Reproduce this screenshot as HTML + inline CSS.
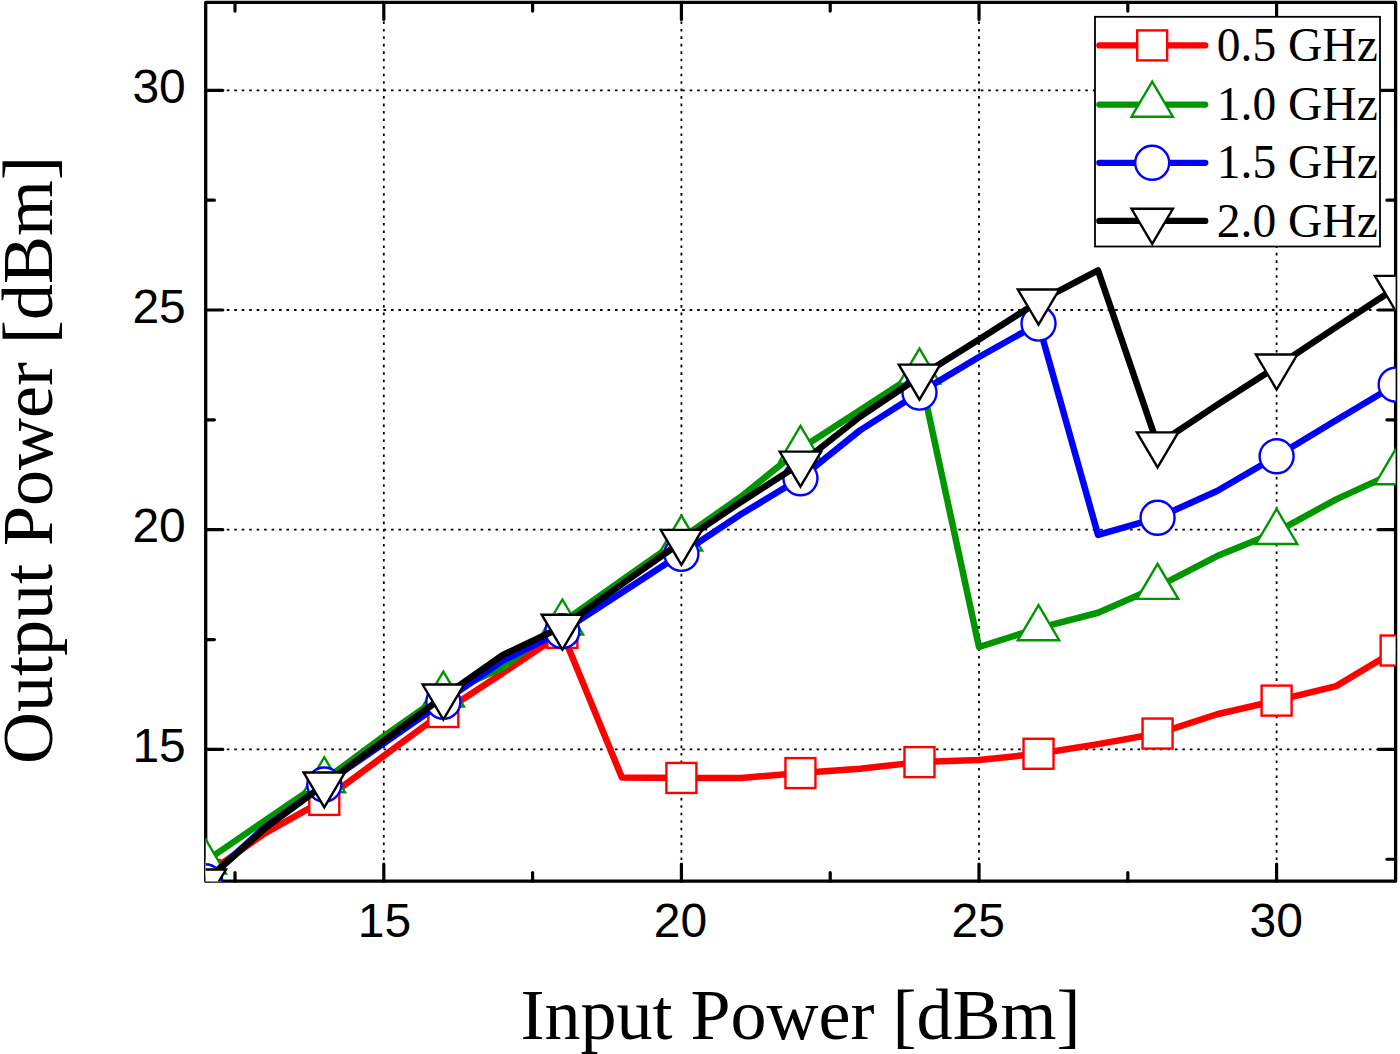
<!DOCTYPE html>
<html><head><meta charset="utf-8"><title>Output Power vs Input Power</title>
<style>html,body{margin:0;padding:0;background:#fff;}svg{display:block;}</style>
</head><body>
<svg width="1400" height="1054" viewBox="0 0 1400 1054"><defs><clipPath id="pc"><rect x="205.7" y="2.4" width="1189.9" height="878.8"/></clipPath></defs><rect width="1400" height="1054" fill="#fff"/><g stroke="#000" stroke-width="1.8" stroke-dasharray="2.6 4.865" stroke-dashoffset="1.3" fill="none"><line x1="383.81" y1="881.2" x2="383.81" y2="2.4"/><line x1="205.7" y1="749.38" x2="1395.6" y2="749.38"/><line x1="681.41" y1="881.2" x2="681.41" y2="2.4"/><line x1="205.7" y1="529.68" x2="1395.6" y2="529.68"/><line x1="979.01" y1="881.2" x2="979.01" y2="2.4"/><line x1="205.7" y1="309.98" x2="1395.6" y2="309.98"/><line x1="1276.61" y1="881.2" x2="1276.61" y2="2.4"/><line x1="205.7" y1="90.28" x2="1395.6" y2="90.28"/></g>
<rect x="205.7" y="2.4" width="1189.9" height="878.8" fill="none" stroke="#000" stroke-width="3.3" stroke-linejoin="round"/><path d="M235.01 881.2V872.5M235.01 2.4V11.1M205.7 859.23H214.4M1395.6 859.23H1386.9M383.81 881.2V864.1M383.81 2.4V19.5M205.7 749.38H222.8M1395.6 749.38H1378.5M532.61 881.2V872.5M532.61 2.4V11.1M205.7 639.53H214.4M1395.6 639.53H1386.9M681.41 881.2V864.1M681.41 2.4V19.5M205.7 529.68H222.8M1395.6 529.68H1378.5M830.21 881.2V872.5M830.21 2.4V11.1M205.7 419.83H214.4M1395.6 419.83H1386.9M979.01 881.2V864.1M979.01 2.4V19.5M205.7 309.98H222.8M1395.6 309.98H1378.5M1127.81 881.2V872.5M1127.81 2.4V11.1M205.7 200.13H214.4M1395.6 200.13H1386.9M1276.61 881.2V864.1M1276.61 2.4V19.5M205.7 90.28H222.8M1395.6 90.28H1378.5" stroke="#000" stroke-width="3.2" stroke-linecap="round" fill="none"/>
<g clip-path="url(#pc)"><polyline points="205.25,875.05 264.77,833.31 324.29,799.91 383.81,755.97 443.33,712.03 502.85,672.92 562.37,632.94 621.89,777.5 681.41,777.94 740.93,777.94 800.45,773.11 859.97,768.71 919.49,762.12 979.01,759.93 1038.53,753.77 1098.05,744.11 1157.57,733.56 1217.09,714.23 1276.61,700.61 1336.13,686.11 1395.65,650.52" fill="none" stroke="#ff0000" stroke-width="6.5" stroke-linejoin="round" stroke-linecap="round"/><rect x="190.25" y="860.05" width="30" height="30" fill="#fff" stroke="#ff0000" stroke-width="2.4"/><rect x="309.29" y="784.91" width="30" height="30" fill="#fff" stroke="#ff0000" stroke-width="2.4"/><rect x="428.33" y="697.03" width="30" height="30" fill="#fff" stroke="#ff0000" stroke-width="2.4"/><rect x="547.37" y="617.94" width="30" height="30" fill="#fff" stroke="#ff0000" stroke-width="2.4"/><rect x="666.41" y="762.94" width="30" height="30" fill="#fff" stroke="#ff0000" stroke-width="2.4"/><rect x="785.45" y="758.11" width="30" height="30" fill="#fff" stroke="#ff0000" stroke-width="2.4"/><rect x="904.49" y="747.12" width="30" height="30" fill="#fff" stroke="#ff0000" stroke-width="2.4"/><rect x="1023.53" y="738.77" width="30" height="30" fill="#fff" stroke="#ff0000" stroke-width="2.4"/><rect x="1142.57" y="718.56" width="30" height="30" fill="#fff" stroke="#ff0000" stroke-width="2.4"/><rect x="1261.61" y="685.61" width="30" height="30" fill="#fff" stroke="#ff0000" stroke-width="2.4"/><rect x="1380.65" y="635.52" width="30" height="30" fill="#fff" stroke="#ff0000" stroke-width="2.4"/><polyline points="205.25,861.43 264.77,820.56 324.29,780.14 383.81,736.2 443.33,694.46 502.85,667.65 562.37,622.39 621.89,580.21 681.41,538.47 740.93,496.73 800.45,448.83 859.97,410.16 919.49,371.5 979.01,647 1038.53,628.11 1098.05,612.73 1157.57,586.8 1217.09,556.04 1276.61,531.88 1336.13,499.36 1395.65,472.12" fill="none" stroke="#009600" stroke-width="6.5" stroke-linejoin="round" stroke-linecap="round"/><polygon points="205.25,838.53 225.95,873.53 184.55,873.53" fill="#fff" stroke="#009600" stroke-width="2.4" stroke-linejoin="miter"/><polygon points="324.29,757.24 344.99,792.24 303.59,792.24" fill="#fff" stroke="#009600" stroke-width="2.4" stroke-linejoin="miter"/><polygon points="443.33,671.56 464.03,706.56 422.63,706.56" fill="#fff" stroke="#009600" stroke-width="2.4" stroke-linejoin="miter"/><polygon points="562.37,599.49 583.07,634.49 541.67,634.49" fill="#fff" stroke="#009600" stroke-width="2.4" stroke-linejoin="miter"/><polygon points="681.41,515.57 702.11,550.57 660.71,550.57" fill="#fff" stroke="#009600" stroke-width="2.4" stroke-linejoin="miter"/><polygon points="800.45,425.93 821.15,460.93 779.75,460.93" fill="#fff" stroke="#009600" stroke-width="2.4" stroke-linejoin="miter"/><polygon points="919.49,348.6 940.19,383.6 898.79,383.6" fill="#fff" stroke="#009600" stroke-width="2.4" stroke-linejoin="miter"/><polygon points="1038.53,605.21 1059.23,640.21 1017.83,640.21" fill="#fff" stroke="#009600" stroke-width="2.4" stroke-linejoin="miter"/><polygon points="1157.57,563.9 1178.27,598.9 1136.87,598.9" fill="#fff" stroke="#009600" stroke-width="2.4" stroke-linejoin="miter"/><polygon points="1276.61,508.98 1297.31,543.98 1255.91,543.98" fill="#fff" stroke="#009600" stroke-width="2.4" stroke-linejoin="miter"/><polygon points="1395.65,449.22 1416.35,484.22 1374.95,484.22" fill="#fff" stroke="#009600" stroke-width="2.4" stroke-linejoin="miter"/><polyline points="205.25,881.2 264.77,827.15 324.29,784.53 383.81,743.23 443.33,701.92 502.85,660.62 562.37,631.18 621.89,592.51 681.41,553.85 740.93,514.3 800.45,478.27 859.97,430.38 919.49,392.59 979.01,357 1038.53,323.6 1098.05,534.95 1157.57,517.82 1217.09,491.01 1276.61,456.3 1336.13,420.27 1395.65,384.68" fill="none" stroke="#0000ff" stroke-width="6.5" stroke-linejoin="round" stroke-linecap="round"/><circle cx="205.25" cy="881.2" r="17" fill="#fff" stroke="#0000ff" stroke-width="2.4"/><circle cx="324.29" cy="784.53" r="17" fill="#fff" stroke="#0000ff" stroke-width="2.4"/><circle cx="443.33" cy="701.92" r="17" fill="#fff" stroke="#0000ff" stroke-width="2.4"/><circle cx="562.37" cy="631.18" r="17" fill="#fff" stroke="#0000ff" stroke-width="2.4"/><circle cx="681.41" cy="553.85" r="17" fill="#fff" stroke="#0000ff" stroke-width="2.4"/><circle cx="800.45" cy="478.27" r="17" fill="#fff" stroke="#0000ff" stroke-width="2.4"/><circle cx="919.49" cy="392.59" r="17" fill="#fff" stroke="#0000ff" stroke-width="2.4"/><circle cx="1038.53" cy="323.6" r="17" fill="#fff" stroke="#0000ff" stroke-width="2.4"/><circle cx="1157.57" cy="517.82" r="17" fill="#fff" stroke="#0000ff" stroke-width="2.4"/><circle cx="1276.61" cy="456.3" r="17" fill="#fff" stroke="#0000ff" stroke-width="2.4"/><circle cx="1395.65" cy="384.68" r="17" fill="#fff" stroke="#0000ff" stroke-width="2.4"/><polyline points="205.25,881.64 264.77,828.47 324.29,784.53 383.81,740.59 443.33,696.65 502.85,654.91 562.37,626.79 621.89,584.17 681.41,541.98 740.93,502 800.45,463.77 859.97,416.75 919.49,376.77 979.01,339.42 1038.53,301.63 1098.05,270.43 1157.57,444.44 1217.09,404.89 1276.61,366.66 1336.13,327.12 1395.65,288.01" fill="none" stroke="#000000" stroke-width="6.5" stroke-linejoin="round" stroke-linecap="round"/><polygon points="205.25,904.54 225.95,869.54 184.55,869.54" fill="#fff" stroke="#000000" stroke-width="2.4" stroke-linejoin="miter"/><polygon points="324.29,807.43 344.99,772.43 303.59,772.43" fill="#fff" stroke="#000000" stroke-width="2.4" stroke-linejoin="miter"/><polygon points="443.33,719.55 464.03,684.55 422.63,684.55" fill="#fff" stroke="#000000" stroke-width="2.4" stroke-linejoin="miter"/><polygon points="562.37,649.69 583.07,614.69 541.67,614.69" fill="#fff" stroke="#000000" stroke-width="2.4" stroke-linejoin="miter"/><polygon points="681.41,564.88 702.11,529.88 660.71,529.88" fill="#fff" stroke="#000000" stroke-width="2.4" stroke-linejoin="miter"/><polygon points="800.45,486.67 821.15,451.67 779.75,451.67" fill="#fff" stroke="#000000" stroke-width="2.4" stroke-linejoin="miter"/><polygon points="919.49,399.67 940.19,364.67 898.79,364.67" fill="#fff" stroke="#000000" stroke-width="2.4" stroke-linejoin="miter"/><polygon points="1038.53,324.53 1059.23,289.53 1017.83,289.53" fill="#fff" stroke="#000000" stroke-width="2.4" stroke-linejoin="miter"/><polygon points="1157.57,467.34 1178.27,432.34 1136.87,432.34" fill="#fff" stroke="#000000" stroke-width="2.4" stroke-linejoin="miter"/><polygon points="1276.61,389.56 1297.31,354.56 1255.91,354.56" fill="#fff" stroke="#000000" stroke-width="2.4" stroke-linejoin="miter"/><polygon points="1395.65,310.91 1416.35,275.91 1374.95,275.91" fill="#fff" stroke="#000000" stroke-width="2.4" stroke-linejoin="miter"/></g>
<rect x="1095" y="16.8" width="285" height="229.7" fill="#fff" stroke="#000" stroke-width="1.8"/><line x1="1099.3" y1="45.4" x2="1205.3" y2="45.4" stroke="#ff0000" stroke-width="6.2" stroke-linecap="round"/><rect x="1137.2" y="30.4" width="30" height="30" fill="#fff" stroke="#ff0000" stroke-width="2.4"/><text x="1216.8" y="61" font-family="Liberation Serif, serif" font-size="47.5">0.5 GHz</text><line x1="1099.3" y1="104.6" x2="1205.3" y2="104.6" stroke="#009600" stroke-width="6.2" stroke-linecap="round"/><polygon points="1152.2,81.7 1172.9,116.7 1131.5,116.7" fill="#fff" stroke="#009600" stroke-width="2.4" stroke-linejoin="miter"/><text x="1216.8" y="120.2" font-family="Liberation Serif, serif" font-size="47.5">1.0 GHz</text><line x1="1099.3" y1="162.8" x2="1205.3" y2="162.8" stroke="#0000ff" stroke-width="6.2" stroke-linecap="round"/><circle cx="1152.2" cy="162.8" r="17" fill="#fff" stroke="#0000ff" stroke-width="2.4"/><text x="1216.8" y="178.4" font-family="Liberation Serif, serif" font-size="47.5">1.5 GHz</text><line x1="1099.3" y1="220.9" x2="1205.3" y2="220.9" stroke="#000000" stroke-width="6.2" stroke-linecap="round"/><polygon points="1152.2,243.8 1172.9,208.8 1131.5,208.8" fill="#fff" stroke="#000000" stroke-width="2.4" stroke-linejoin="miter"/><text x="1216.8" y="236.5" font-family="Liberation Serif, serif" font-size="47.5">2.0 GHz</text>
<g font-family="Liberation Sans, sans-serif" font-size="48"><text x="384.41" y="937" text-anchor="middle">15</text><text x="185.8" y="761.98" text-anchor="end">15</text><text x="680.41" y="937" text-anchor="middle">20</text><text x="185.8" y="542.28" text-anchor="end">20</text><text x="978.31" y="937" text-anchor="middle">25</text><text x="185.8" y="322.58" text-anchor="end">25</text><text x="1276.21" y="937" text-anchor="middle">30</text><text x="185.8" y="102.88" text-anchor="end">30</text></g>
<text x="800.5" y="1039.3" text-anchor="middle" font-family="Liberation Serif, serif" font-size="72">Input Power [dBm]</text>
<text transform="translate(52,460) rotate(-90)" text-anchor="middle" font-family="Liberation Serif, serif" font-size="72">Output Power [dBm]</text></svg>
</body></html>
